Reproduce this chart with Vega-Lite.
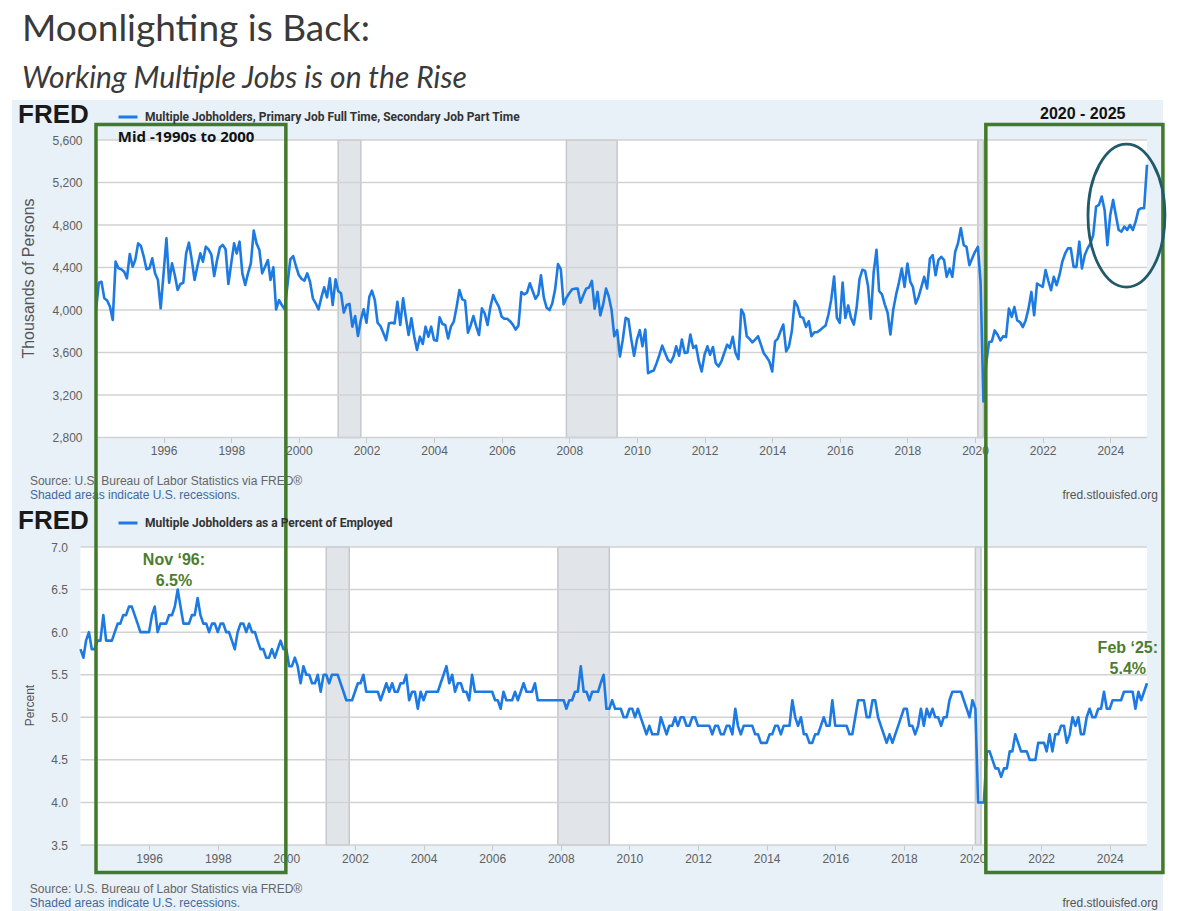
{
  "$schema": "https://vega.github.io/schema/vega-lite/v6.json",
  "width": 1151,
  "height": 811,
  "autosize": {"type": "none"},
  "padding": {"left": 12, "top": 100, "right": 16, "bottom": 0},
  "background": "white",
  "title": {
    "text": "Moonlighting is Back:",
    "subtitle": "Working Multiple Jobs is on the Rise",
    "anchor": "start",
    "frame": "group",
    "dx": 10,
    "offset": 5,
    "font": "Lato",
    "fontSize": 37,
    "fontWeight": "normal",
    "color": "#3a3a3a",
    "subtitleFont": "Lato",
    "subtitleFontSize": 30,
    "subtitleFontStyle": "italic",
    "subtitleColor": "#3a3a3a",
    "subtitlePadding": 15
  },
  "config": {
    "view": {"fill": "#e8f0f8", "stroke": null},
    "axis": {
      "labelFont": "Liberation Sans",
      "labelFontSize": 12,
      "labelColor": "#606060",
      "titleFont": "Liberation Sans",
      "titleFontSize": 14,
      "titleFontWeight": "normal",
      "titleColor": "#555555",
      "grid": false,
      "domain": false
    }
  },
  "datasets": {
    "rec": [
      {"s": "2001-03-01", "e": "2001-11-01"},
      {"s": "2007-12-01", "e": "2009-06-01"},
      {"s": "2020-02-01", "e": "2020-04-01"}
    ],
    "boxes": [
      {"s": "1994-01-01", "e": "1999-08-14"},
      {"s": "2020-04-27", "e": "2025-07-23"}
    ],
    "gridTop": [{"v": 2800}, {"v": 3200}, {"v": 3600}, {"v": 4000}, {"v": 4400}, {"v": 4800}, {"v": 5200}, {"v": 5600}],
    "gridPct": [{"v": 3.5}, {"v": 4.0}, {"v": 4.5}, {"v": 5.0}, {"v": 5.5}, {"v": 6.0}, {"v": 6.5}, {"v": 7.0}],
    "top": [
      {"d":"1994-01","v":4000},{"d":"1994-02","v":4257},{"d":"1994-03","v":4266},{"d":"1994-04","v":4110},{"d":"1994-05","v":4090},{"d":"1994-06","v":4030},{"d":"1994-07","v":3906},{"d":"1994-08","v":4455},{"d":"1994-09","v":4392},{"d":"1994-10","v":4383},{"d":"1994-11","v":4360},{"d":"1994-12","v":4298},
      {"d":"1995-01","v":4527},{"d":"1995-02","v":4408},{"d":"1995-03","v":4470},{"d":"1995-04","v":4627},{"d":"1995-05","v":4602},{"d":"1995-06","v":4502},{"d":"1995-07","v":4383},{"d":"1995-08","v":4392},{"d":"1995-09","v":4486},{"d":"1995-10","v":4345},{"d":"1995-11","v":4282},{"d":"1995-12","v":4016},
      {"d":"1996-01","v":4345},{"d":"1996-02","v":4675},{"d":"1996-03","v":4257},{"d":"1996-04","v":4439},{"d":"1996-05","v":4329},{"d":"1996-06","v":4188},{"d":"1996-07","v":4245},{"d":"1996-08","v":4257},{"d":"1996-09","v":4533},{"d":"1996-10","v":4634},{"d":"1996-11","v":4470},{"d":"1996-12","v":4282},
      {"d":"1997-01","v":4414},{"d":"1997-02","v":4533},{"d":"1997-03","v":4455},{"d":"1997-04","v":4596},{"d":"1997-05","v":4571},{"d":"1997-06","v":4518},{"d":"1997-07","v":4320},{"d":"1997-08","v":4470},{"d":"1997-09","v":4590},{"d":"1997-10","v":4612},{"d":"1997-11","v":4571},{"d":"1997-12","v":4245},
      {"d":"1998-01","v":4439},{"d":"1998-02","v":4627},{"d":"1998-03","v":4533},{"d":"1998-04","v":4643},{"d":"1998-05","v":4345},{"d":"1998-06","v":4235},{"d":"1998-07","v":4345},{"d":"1998-08","v":4439},{"d":"1998-09","v":4747},{"d":"1998-10","v":4627},{"d":"1998-11","v":4565},{"d":"1998-12","v":4345},
      {"d":"1999-01","v":4408},{"d":"1999-02","v":4470},{"d":"1999-03","v":4282},{"d":"1999-04","v":4402},{"d":"1999-05","v":4006},{"d":"1999-06","v":4094},{"d":"1999-07","v":4047},{"d":"1999-08","v":4006},{"d":"1999-09","v":4240},{"d":"1999-10","v":4477},{"d":"1999-11","v":4508},{"d":"1999-12","v":4414},
      {"d":"2000-01","v":4329},{"d":"2000-02","v":4292},{"d":"2000-03","v":4276},{"d":"2000-04","v":4345},{"d":"2000-05","v":4266},{"d":"2000-06","v":4110},{"d":"2000-07","v":4063},{"d":"2000-08","v":4006},{"d":"2000-09","v":4119},{"d":"2000-10","v":4213},{"d":"2000-11","v":4119},{"d":"2000-12","v":4298},
      {"d":"2001-01","v":4047},{"d":"2001-02","v":4289},{"d":"2001-03","v":4179},{"d":"2001-04","v":4157},{"d":"2001-05","v":3975},{"d":"2001-06","v":4047},{"d":"2001-07","v":4057},{"d":"2001-08","v":3843},{"d":"2001-09","v":3943},{"d":"2001-10","v":3755},{"d":"2001-11","v":3906},{"d":"2001-12","v":4006},
      {"d":"2002-01","v":3880},{"d":"2002-02","v":4125},{"d":"2002-03","v":4182},{"d":"2002-04","v":4094},{"d":"2002-05","v":3880},{"d":"2002-06","v":3849},{"d":"2002-07","v":3786},{"d":"2002-08","v":3717},{"d":"2002-09","v":3874},{"d":"2002-10","v":3880},{"d":"2002-11","v":3874},{"d":"2002-12","v":4078},
      {"d":"2003-01","v":3859},{"d":"2003-02","v":4110},{"d":"2003-03","v":3937},{"d":"2003-04","v":3765},{"d":"2003-05","v":3922},{"d":"2003-06","v":3749},{"d":"2003-07","v":3624},{"d":"2003-08","v":3749},{"d":"2003-09","v":3680},{"d":"2003-10","v":3843},{"d":"2003-11","v":3749},{"d":"2003-12","v":3843},
      {"d":"2004-01","v":3717},{"d":"2004-02","v":3711},{"d":"2004-03","v":3931},{"d":"2004-04","v":3868},{"d":"2004-05","v":3859},{"d":"2004-06","v":3733},{"d":"2004-07","v":3843},{"d":"2004-08","v":3890},{"d":"2004-09","v":4031},{"d":"2004-10","v":4188},{"d":"2004-11","v":4100},{"d":"2004-12","v":4088},
      {"d":"2005-01","v":3786},{"d":"2005-02","v":3859},{"d":"2005-03","v":3943},{"d":"2005-04","v":3843},{"d":"2005-05","v":3765},{"d":"2005-06","v":4016},{"d":"2005-07","v":3969},{"d":"2005-08","v":3859},{"d":"2005-09","v":4031},{"d":"2005-10","v":4141},{"d":"2005-11","v":4078},{"d":"2005-12","v":4031},
      {"d":"2006-01","v":3936},{"d":"2006-02","v":3917},{"d":"2006-03","v":3917},{"d":"2006-04","v":3895},{"d":"2006-05","v":3863},{"d":"2006-06","v":3816},{"d":"2006-07","v":3854},{"d":"2006-08","v":4170},{"d":"2006-09","v":4147},{"d":"2006-10","v":4163},{"d":"2006-11","v":4252},{"d":"2006-12","v":4179},
      {"d":"2007-01","v":4106},{"d":"2007-02","v":4147},{"d":"2007-03","v":4327},{"d":"2007-04","v":4116},{"d":"2007-05","v":4021},{"d":"2007-06","v":3999},{"d":"2007-07","v":4062},{"d":"2007-08","v":4195},{"d":"2007-09","v":4432},{"d":"2007-10","v":4384},{"d":"2007-11","v":4053},{"d":"2007-12","v":4116},
      {"d":"2008-01","v":4157},{"d":"2008-02","v":4195},{"d":"2008-03","v":4201},{"d":"2008-04","v":4201},{"d":"2008-05","v":4069},{"d":"2008-06","v":4138},{"d":"2008-07","v":4201},{"d":"2008-08","v":4211},{"d":"2008-09","v":4274},{"d":"2008-10","v":4012},{"d":"2008-11","v":4170},{"d":"2008-12","v":3949},
      {"d":"2009-01","v":4053},{"d":"2009-02","v":4201},{"d":"2009-03","v":4132},{"d":"2009-04","v":4005},{"d":"2009-05","v":3753},{"d":"2009-06","v":3810},{"d":"2009-07","v":3563},{"d":"2009-08","v":3721},{"d":"2009-09","v":3926},{"d":"2009-10","v":3911},{"d":"2009-11","v":3721},{"d":"2009-12","v":3570},
      {"d":"2010-01","v":3721},{"d":"2010-02","v":3810},{"d":"2010-03","v":3658},{"d":"2010-04","v":3816},{"d":"2010-05","v":3406},{"d":"2010-06","v":3421},{"d":"2010-07","v":3431},{"d":"2010-08","v":3500},{"d":"2010-09","v":3579},{"d":"2010-10","v":3664},{"d":"2010-11","v":3595},{"d":"2010-12","v":3532},
      {"d":"2011-01","v":3507},{"d":"2011-02","v":3563},{"d":"2011-03","v":3658},{"d":"2011-04","v":3570},{"d":"2011-05","v":3721},{"d":"2011-06","v":3595},{"d":"2011-07","v":3601},{"d":"2011-08","v":3769},{"d":"2011-09","v":3642},{"d":"2011-10","v":3664},{"d":"2011-11","v":3516},{"d":"2011-12","v":3421},
      {"d":"2012-01","v":3579},{"d":"2012-02","v":3658},{"d":"2012-03","v":3579},{"d":"2012-04","v":3652},{"d":"2012-05","v":3500},{"d":"2012-06","v":3469},{"d":"2012-07","v":3516},{"d":"2012-08","v":3595},{"d":"2012-09","v":3674},{"d":"2012-10","v":3642},{"d":"2012-11","v":3747},{"d":"2012-12","v":3595},
      {"d":"2013-01","v":3538},{"d":"2013-02","v":4005},{"d":"2013-03","v":3958},{"d":"2013-04","v":3753},{"d":"2013-05","v":3728},{"d":"2013-06","v":3696},{"d":"2013-07","v":3721},{"d":"2013-08","v":3753},{"d":"2013-09","v":3674},{"d":"2013-10","v":3595},{"d":"2013-11","v":3557},{"d":"2013-12","v":3516},
      {"d":"2014-01","v":3421},{"d":"2014-02","v":3705},{"d":"2014-03","v":3728},{"d":"2014-04","v":3800},{"d":"2014-05","v":3863},{"d":"2014-06","v":3611},{"d":"2014-07","v":3658},{"d":"2014-08","v":3800},{"d":"2014-09","v":4084},{"d":"2014-10","v":4037},{"d":"2014-11","v":3936},{"d":"2014-12","v":3926},
      {"d":"2015-01","v":3841},{"d":"2015-02","v":3895},{"d":"2015-03","v":3753},{"d":"2015-04","v":3791},{"d":"2015-05","v":3791},{"d":"2015-06","v":3810},{"d":"2015-07","v":3832},{"d":"2015-08","v":3854},{"d":"2015-09","v":3958},{"d":"2015-10","v":4100},{"d":"2015-11","v":4315},{"d":"2015-12","v":3926},
      {"d":"2016-01","v":3879},{"d":"2016-02","v":4258},{"d":"2016-03","v":3926},{"d":"2016-04","v":4043},{"d":"2016-05","v":3926},{"d":"2016-06","v":3863},{"d":"2016-07","v":4021},{"d":"2016-08","v":4290},{"d":"2016-09","v":4378},{"d":"2016-10","v":4368},{"d":"2016-11","v":4226},{"d":"2016-12","v":3917},
      {"d":"2017-01","v":4353},{"d":"2017-02","v":4567},{"d":"2017-03","v":4179},{"d":"2017-04","v":4147},{"d":"2017-05","v":4053},{"d":"2017-06","v":3974},{"d":"2017-07","v":3769},{"d":"2017-08","v":4005},{"d":"2017-09","v":4147},{"d":"2017-10","v":4258},{"d":"2017-11","v":4390},{"d":"2017-12","v":4217},
      {"d":"2018-01","v":4438},{"d":"2018-02","v":4265},{"d":"2018-03","v":4217},{"d":"2018-04","v":4060},{"d":"2018-05","v":4123},{"d":"2018-06","v":4217},{"d":"2018-07","v":4312},{"d":"2018-08","v":4202},{"d":"2018-09","v":4485},{"d":"2018-10","v":4516},{"d":"2018-11","v":4327},{"d":"2018-12","v":4469},
      {"d":"2019-01","v":4501},{"d":"2019-02","v":4469},{"d":"2019-03","v":4312},{"d":"2019-04","v":4390},{"d":"2019-05","v":4312},{"d":"2019-06","v":4548},{"d":"2019-07","v":4627},{"d":"2019-08","v":4769},{"d":"2019-09","v":4611},{"d":"2019-10","v":4595},{"d":"2019-11","v":4422},{"d":"2019-12","v":4485},
      {"d":"2020-01","v":4548},{"d":"2020-02","v":4595},{"d":"2020-03","v":4265},{"d":"2020-04","v":3140},{"d":"2020-05","v":3500},{"d":"2020-06","v":3698},{"d":"2020-07","v":3704},{"d":"2020-08","v":3808},{"d":"2020-09","v":3767},{"d":"2020-10","v":3713},{"d":"2020-11","v":3754},{"d":"2020-12","v":3745},
      {"d":"2021-01","v":4013},{"d":"2021-02","v":3934},{"d":"2021-03","v":4028},{"d":"2021-04","v":3902},{"d":"2021-05","v":3887},{"d":"2021-06","v":3839},{"d":"2021-07","v":3902},{"d":"2021-08","v":4013},{"d":"2021-09","v":4170},{"d":"2021-10","v":3950},{"d":"2021-11","v":4249},{"d":"2021-12","v":4233},
      {"d":"2022-01","v":4217},{"d":"2022-02","v":4375},{"d":"2022-03","v":4280},{"d":"2022-04","v":4186},{"d":"2022-05","v":4312},{"d":"2022-06","v":4233},{"d":"2022-07","v":4328},{"d":"2022-08","v":4454},{"d":"2022-09","v":4532},{"d":"2022-10","v":4580},{"d":"2022-11","v":4580},{"d":"2022-12","v":4406},
      {"d":"2023-01","v":4406},{"d":"2023-02","v":4643},{"d":"2023-03","v":4391},{"d":"2023-04","v":4517},{"d":"2023-05","v":4580},{"d":"2023-06","v":4627},{"d":"2023-07","v":4706},{"d":"2023-08","v":4973},{"d":"2023-09","v":4989},{"d":"2023-10","v":5068},{"d":"2023-11","v":4942},{"d":"2023-12","v":4611},
      {"d":"2024-01","v":4895},{"d":"2024-02","v":5036},{"d":"2024-03","v":4895},{"d":"2024-04","v":4753},{"d":"2024-05","v":4737},{"d":"2024-06","v":4784},{"d":"2024-07","v":4753},{"d":"2024-08","v":4800},{"d":"2024-09","v":4753},{"d":"2024-10","v":4832},{"d":"2024-11","v":4942},{"d":"2024-12","v":4958},
      {"d":"2025-01","v":4958},{"d":"2025-02","v":5367}
    ],
    "pct": [
      {"d":"1994-01","v":5.8},{"d":"1994-02","v":5.7},{"d":"1994-03","v":5.9},{"d":"1994-04","v":6.0},{"d":"1994-05","v":5.8},{"d":"1994-06","v":5.8},{"d":"1994-07","v":5.9},{"d":"1994-08","v":5.9},{"d":"1994-09","v":6.2},{"d":"1994-10","v":5.9},{"d":"1994-11","v":5.9},{"d":"1994-12","v":5.9},
      {"d":"1995-01","v":6.0},{"d":"1995-02","v":6.1},{"d":"1995-03","v":6.1},{"d":"1995-04","v":6.2},{"d":"1995-05","v":6.2},{"d":"1995-06","v":6.3},{"d":"1995-07","v":6.3},{"d":"1995-08","v":6.2},{"d":"1995-09","v":6.1},{"d":"1995-10","v":6.0},{"d":"1995-11","v":6.0},{"d":"1995-12","v":6.0},
      {"d":"1996-01","v":6.0},{"d":"1996-02","v":6.2},{"d":"1996-03","v":6.3},{"d":"1996-04","v":6.0},{"d":"1996-05","v":6.1},{"d":"1996-06","v":6.1},{"d":"1996-07","v":6.1},{"d":"1996-08","v":6.2},{"d":"1996-09","v":6.2},{"d":"1996-10","v":6.3},{"d":"1996-11","v":6.5},{"d":"1996-12","v":6.3},
      {"d":"1997-01","v":6.1},{"d":"1997-02","v":6.1},{"d":"1997-03","v":6.1},{"d":"1997-04","v":6.2},{"d":"1997-05","v":6.2},{"d":"1997-06","v":6.4},{"d":"1997-07","v":6.2},{"d":"1997-08","v":6.1},{"d":"1997-09","v":6.1},{"d":"1997-10","v":6.0},{"d":"1997-11","v":6.1},{"d":"1997-12","v":6.1},
      {"d":"1998-01","v":6.0},{"d":"1998-02","v":6.1},{"d":"1998-03","v":6.1},{"d":"1998-04","v":6.0},{"d":"1998-05","v":6.0},{"d":"1998-06","v":5.9},{"d":"1998-07","v":5.8},{"d":"1998-08","v":6.0},{"d":"1998-09","v":6.1},{"d":"1998-10","v":6.1},{"d":"1998-11","v":6.0},{"d":"1998-12","v":6.1},
      {"d":"1999-01","v":6.0},{"d":"1999-02","v":6.0},{"d":"1999-03","v":5.9},{"d":"1999-04","v":5.8},{"d":"1999-05","v":5.8},{"d":"1999-06","v":5.7},{"d":"1999-07","v":5.7},{"d":"1999-08","v":5.8},{"d":"1999-09","v":5.7},{"d":"1999-10","v":5.8},{"d":"1999-11","v":5.9},{"d":"1999-12","v":5.8},
      {"d":"2000-01","v":5.8},{"d":"2000-02","v":5.6},{"d":"2000-03","v":5.6},{"d":"2000-04","v":5.7},{"d":"2000-05","v":5.6},{"d":"2000-06","v":5.4},{"d":"2000-07","v":5.6},{"d":"2000-08","v":5.5},{"d":"2000-09","v":5.5},{"d":"2000-10","v":5.4},{"d":"2000-11","v":5.4},{"d":"2000-12","v":5.5},
      {"d":"2001-01","v":5.3},{"d":"2001-02","v":5.5},{"d":"2001-03","v":5.5},{"d":"2001-04","v":5.4},{"d":"2001-05","v":5.5},{"d":"2001-06","v":5.5},{"d":"2001-07","v":5.5},{"d":"2001-08","v":5.4},{"d":"2001-09","v":5.3},{"d":"2001-10","v":5.2},{"d":"2001-11","v":5.2},{"d":"2001-12","v":5.2},
      {"d":"2002-01","v":5.3},{"d":"2002-02","v":5.4},{"d":"2002-03","v":5.4},{"d":"2002-04","v":5.5},{"d":"2002-05","v":5.3},{"d":"2002-06","v":5.3},{"d":"2002-07","v":5.3},{"d":"2002-08","v":5.3},{"d":"2002-09","v":5.3},{"d":"2002-10","v":5.2},{"d":"2002-11","v":5.3},{"d":"2002-12","v":5.4},
      {"d":"2003-01","v":5.3},{"d":"2003-02","v":5.4},{"d":"2003-03","v":5.3},{"d":"2003-04","v":5.3},{"d":"2003-05","v":5.4},{"d":"2003-06","v":5.4},{"d":"2003-07","v":5.5},{"d":"2003-08","v":5.2},{"d":"2003-09","v":5.3},{"d":"2003-10","v":5.3},{"d":"2003-11","v":5.1},{"d":"2003-12","v":5.3},
      {"d":"2004-01","v":5.2},{"d":"2004-02","v":5.3},{"d":"2004-03","v":5.3},{"d":"2004-04","v":5.3},{"d":"2004-05","v":5.3},{"d":"2004-06","v":5.3},{"d":"2004-07","v":5.4},{"d":"2004-08","v":5.5},{"d":"2004-09","v":5.6},{"d":"2004-10","v":5.4},{"d":"2004-11","v":5.5},{"d":"2004-12","v":5.3},
      {"d":"2005-01","v":5.4},{"d":"2005-02","v":5.4},{"d":"2005-03","v":5.3},{"d":"2005-04","v":5.3},{"d":"2005-05","v":5.2},{"d":"2005-06","v":5.5},{"d":"2005-07","v":5.3},{"d":"2005-08","v":5.3},{"d":"2005-09","v":5.3},{"d":"2005-10","v":5.3},{"d":"2005-11","v":5.3},{"d":"2005-12","v":5.3},
      {"d":"2006-01","v":5.3},{"d":"2006-02","v":5.2},{"d":"2006-03","v":5.2},{"d":"2006-04","v":5.1},{"d":"2006-05","v":5.3},{"d":"2006-06","v":5.2},{"d":"2006-07","v":5.2},{"d":"2006-08","v":5.2},{"d":"2006-09","v":5.3},{"d":"2006-10","v":5.2},{"d":"2006-11","v":5.3},{"d":"2006-12","v":5.4},
      {"d":"2007-01","v":5.3},{"d":"2007-02","v":5.3},{"d":"2007-03","v":5.3},{"d":"2007-04","v":5.4},{"d":"2007-05","v":5.2},{"d":"2007-06","v":5.2},{"d":"2007-07","v":5.2},{"d":"2007-08","v":5.2},{"d":"2007-09","v":5.2},{"d":"2007-10","v":5.2},{"d":"2007-11","v":5.2},{"d":"2007-12","v":5.2},
      {"d":"2008-01","v":5.2},{"d":"2008-02","v":5.2},{"d":"2008-03","v":5.1},{"d":"2008-04","v":5.2},{"d":"2008-05","v":5.2},{"d":"2008-06","v":5.3},{"d":"2008-07","v":5.3},{"d":"2008-08","v":5.6},{"d":"2008-09","v":5.3},{"d":"2008-10","v":5.3},{"d":"2008-11","v":5.2},{"d":"2008-12","v":5.3},
      {"d":"2009-01","v":5.3},{"d":"2009-02","v":5.3},{"d":"2009-03","v":5.4},{"d":"2009-04","v":5.5},{"d":"2009-05","v":5.1},{"d":"2009-06","v":5.1},{"d":"2009-07","v":5.2},{"d":"2009-08","v":5.1},{"d":"2009-09","v":5.1},{"d":"2009-10","v":5.1},{"d":"2009-11","v":5.0},{"d":"2009-12","v":5.0},
      {"d":"2010-01","v":5.1},{"d":"2010-02","v":5.1},{"d":"2010-03","v":5.0},{"d":"2010-04","v":5.1},{"d":"2010-05","v":5.0},{"d":"2010-06","v":4.9},{"d":"2010-07","v":4.8},{"d":"2010-08","v":4.9},{"d":"2010-09","v":4.8},{"d":"2010-10","v":4.8},{"d":"2010-11","v":4.8},{"d":"2010-12","v":5.0},
      {"d":"2011-01","v":4.9},{"d":"2011-02","v":4.8},{"d":"2011-03","v":4.9},{"d":"2011-04","v":4.9},{"d":"2011-05","v":5.0},{"d":"2011-06","v":4.9},{"d":"2011-07","v":5.0},{"d":"2011-08","v":5.0},{"d":"2011-09","v":4.9},{"d":"2011-10","v":4.9},{"d":"2011-11","v":5.0},{"d":"2011-12","v":5.0},
      {"d":"2012-01","v":4.9},{"d":"2012-02","v":4.9},{"d":"2012-03","v":4.9},{"d":"2012-04","v":4.9},{"d":"2012-05","v":4.9},{"d":"2012-06","v":4.8},{"d":"2012-07","v":4.9},{"d":"2012-08","v":4.9},{"d":"2012-09","v":4.8},{"d":"2012-10","v":4.8},{"d":"2012-11","v":4.9},{"d":"2012-12","v":4.9},
      {"d":"2013-01","v":4.8},{"d":"2013-02","v":5.1},{"d":"2013-03","v":4.9},{"d":"2013-04","v":4.8},{"d":"2013-05","v":4.9},{"d":"2013-06","v":4.9},{"d":"2013-07","v":4.9},{"d":"2013-08","v":4.9},{"d":"2013-09","v":4.8},{"d":"2013-10","v":4.8},{"d":"2013-11","v":4.7},{"d":"2013-12","v":4.7},
      {"d":"2014-01","v":4.7},{"d":"2014-02","v":4.8},{"d":"2014-03","v":4.8},{"d":"2014-04","v":4.9},{"d":"2014-05","v":4.9},{"d":"2014-06","v":4.8},{"d":"2014-07","v":4.9},{"d":"2014-08","v":4.9},{"d":"2014-09","v":4.9},{"d":"2014-10","v":5.2},{"d":"2014-11","v":5.0},{"d":"2014-12","v":4.9},
      {"d":"2015-01","v":5.0},{"d":"2015-02","v":4.8},{"d":"2015-03","v":4.8},{"d":"2015-04","v":4.7},{"d":"2015-05","v":4.7},{"d":"2015-06","v":4.8},{"d":"2015-07","v":4.8},{"d":"2015-08","v":4.9},{"d":"2015-09","v":5.0},{"d":"2015-10","v":4.9},{"d":"2015-11","v":4.9},{"d":"2015-12","v":5.2},
      {"d":"2016-01","v":4.9},{"d":"2016-02","v":4.9},{"d":"2016-03","v":4.9},{"d":"2016-04","v":4.9},{"d":"2016-05","v":4.9},{"d":"2016-06","v":4.8},{"d":"2016-07","v":4.8},{"d":"2016-08","v":5.0},{"d":"2016-09","v":5.2},{"d":"2016-10","v":5.2},{"d":"2016-11","v":5.2},{"d":"2016-12","v":5.0},
      {"d":"2017-01","v":5.0},{"d":"2017-02","v":5.2},{"d":"2017-03","v":5.2},{"d":"2017-04","v":5.0},{"d":"2017-05","v":4.9},{"d":"2017-06","v":4.8},{"d":"2017-07","v":4.7},{"d":"2017-08","v":4.8},{"d":"2017-09","v":4.7},{"d":"2017-10","v":4.8},{"d":"2017-11","v":4.9},{"d":"2017-12","v":5.0},
      {"d":"2018-01","v":5.1},{"d":"2018-02","v":5.1},{"d":"2018-03","v":4.9},{"d":"2018-04","v":4.9},{"d":"2018-05","v":4.8},{"d":"2018-06","v":4.9},{"d":"2018-07","v":5.1},{"d":"2018-08","v":4.9},{"d":"2018-09","v":5.1},{"d":"2018-10","v":5.0},{"d":"2018-11","v":5.1},{"d":"2018-12","v":5.0},
      {"d":"2019-01","v":5.0},{"d":"2019-02","v":4.9},{"d":"2019-03","v":5.0},{"d":"2019-04","v":5.0},{"d":"2019-05","v":5.2},{"d":"2019-06","v":5.3},{"d":"2019-07","v":5.3},{"d":"2019-08","v":5.3},{"d":"2019-09","v":5.3},{"d":"2019-10","v":5.2},{"d":"2019-11","v":5.1},{"d":"2019-12","v":5.0},
      {"d":"2020-01","v":5.2},{"d":"2020-02","v":5.1},{"d":"2020-03","v":4.0},{"d":"2020-04","v":4.0},{"d":"2020-05","v":4.0},{"d":"2020-06","v":4.6},{"d":"2020-07","v":4.6},{"d":"2020-08","v":4.5},{"d":"2020-09","v":4.4},{"d":"2020-10","v":4.4},{"d":"2020-11","v":4.3},{"d":"2020-12","v":4.4},
      {"d":"2021-01","v":4.4},{"d":"2021-02","v":4.6},{"d":"2021-03","v":4.6},{"d":"2021-04","v":4.8},{"d":"2021-05","v":4.7},{"d":"2021-06","v":4.6},{"d":"2021-07","v":4.6},{"d":"2021-08","v":4.6},{"d":"2021-09","v":4.5},{"d":"2021-10","v":4.5},{"d":"2021-11","v":4.5},{"d":"2021-12","v":4.7},
      {"d":"2022-01","v":4.7},{"d":"2022-02","v":4.7},{"d":"2022-03","v":4.6},{"d":"2022-04","v":4.8},{"d":"2022-05","v":4.6},{"d":"2022-06","v":4.8},{"d":"2022-07","v":4.8},{"d":"2022-08","v":4.9},{"d":"2022-09","v":4.9},{"d":"2022-10","v":4.7},{"d":"2022-11","v":4.8},{"d":"2022-12","v":5.0},
      {"d":"2023-01","v":4.9},{"d":"2023-02","v":5.0},{"d":"2023-03","v":4.8},{"d":"2023-04","v":4.8},{"d":"2023-05","v":5.0},{"d":"2023-06","v":5.1},{"d":"2023-07","v":5.0},{"d":"2023-08","v":5.0},{"d":"2023-09","v":5.1},{"d":"2023-10","v":5.1},{"d":"2023-11","v":5.3},{"d":"2023-12","v":5.1},
      {"d":"2024-01","v":5.1},{"d":"2024-02","v":5.2},{"d":"2024-03","v":5.2},{"d":"2024-04","v":5.2},{"d":"2024-05","v":5.2},{"d":"2024-06","v":5.3},{"d":"2024-07","v":5.3},{"d":"2024-08","v":5.3},{"d":"2024-09","v":5.3},{"d":"2024-10","v":5.1},{"d":"2024-11","v":5.3},{"d":"2024-12","v":5.2},
      {"d":"2025-01","v":5.3},{"d":"2025-02","v":5.4}
    ]
  },
  "layer": [
    {
      "layer": [
        {
          "data": {"values": [{}]},
          "mark": {"type": "rect", "fill": "white"},
          "encoding": {
            "x": {
              "datum": {"year": 1994, "month": 1, "date": 1, "utc": true},
              "type": "temporal",
              "scale": {"type": "utc", "domain": [{"year": 1994, "month": 1, "date": 1, "utc": true}, {"year": 2025, "month": 2, "date": 1, "utc": true}], "range": [68.5, 1135], "nice": false},
              "axis": {
                "orient": "bottom", "offset": -66, "format": "%Y", "title": null,
                "values": [{"year": 1996, "utc": true}, {"year": 1998, "utc": true}, {"year": 2000, "utc": true}, {"year": 2002, "utc": true}, {"year": 2004, "utc": true}, {"year": 2006, "utc": true}, {"year": 2008, "utc": true}, {"year": 2010, "utc": true}, {"year": 2012, "utc": true}, {"year": 2014, "utc": true}, {"year": 2016, "utc": true}, {"year": 2018, "utc": true}, {"year": 2020, "utc": true}, {"year": 2022, "utc": true}, {"year": 2024, "utc": true}],
                "tickSize": 5, "tickColor": "#c8c8c8", "labelPadding": 3
              }
            },
            "x2": {"datum": {"year": 2025, "month": 2, "date": 1, "utc": true}},
            "y": {
              "datum": 3.5,
              "type": "quantitative",
              "scale": {"domain": [3.5, 7.0], "range": [745, 447], "nice": false, "zero": false},
              "axis": {
                "orient": "left", "offset": -68.5, "format": ".1f", "ticks": false, "labelPadding": 13,
                "values": [3.5, 4.0, 4.5, 5.0, 5.5, 6.0, 6.5, 7.0],
                "title": "Percent", "titleFontSize": 12, "titleX": -44, "titleY": 605
              }
            },
            "y2": {"datum": 7.0}
          }
        },
        {
          "data": {"name": "rec"},
          "mark": {"type": "rect", "fill": "#e1e5ea", "stroke": "#c4c7cc", "strokeWidth": 1.5},
          "encoding": {
            "x": {"field": "s", "type": "temporal"},
            "x2": {"field": "e"},
            "y": {"datum": 3.5, "type": "quantitative"},
            "y2": {"datum": 7.0}
          }
        },
        {
          "data": {"name": "gridPct"},
          "mark": {"type": "rule", "color": "#d2d2d2", "strokeWidth": 1.5},
          "encoding": {
            "x": {"datum": {"year": 1994, "month": 1, "date": 1, "utc": true}, "type": "temporal"},
            "x2": {"datum": {"year": 2025, "month": 2, "date": 1, "utc": true}},
            "y": {"field": "v", "type": "quantitative"}
          }
        },
        {
          "data": {"name": "pct"},
          "mark": {"type": "line", "strokeWidth": 2.6, "strokeJoin": "round"},
          "encoding": {
            "x": {"field": "d", "type": "temporal"},
            "y": {"field": "v", "type": "quantitative"},
            "color": {
              "datum": "Multiple Jobholders as a Percent of Employed",
              "type": "nominal",
              "scale": {"range": ["#1c7ae2"]},
              "legend": {
                "orient": "none", "legendX": 6, "legendY": 412,
                "title": "FRED", "titleOrient": "left", "titleFont": "Liberation Sans", "titleFontSize": 26, "titleFontWeight": "bold", "titleColor": "#1a1a1a", "titlePadding": 28,
                "labelFont": "Roboto", "labelFontSize": 12, "labelFontWeight": "bold", "labelColor": "#333333", "labelLimit": 700, "labelOffset": 6,
                "symbolType": "stroke", "symbolSize": 361, "symbolStrokeWidth": 3
              }
            }
          }
        },
        {
          "data": {"values": [{}]},
          "mark": {"type": "text", "text": ["Nov ‘96:", "6.5%"], "align": "center", "baseline": "alphabetic", "lineHeight": 21, "font": "Liberation Sans", "fontWeight": "bold", "fontSize": 16, "color": "#4b7d2d"},
          "encoding": {
            "x": {"datum": {"year": 1996, "month": 9, "date": 22, "utc": true}, "type": "temporal"},
            "y": {"datum": 6.783, "type": "quantitative"}
          }
        },
        {
          "data": {"values": [{}]},
          "mark": {"type": "text", "text": ["Feb ‘25:", "5.4%"], "align": "center", "baseline": "alphabetic", "lineHeight": 21, "font": "Liberation Sans", "fontWeight": "bold", "fontSize": 16, "color": "#4b7d2d"},
          "encoding": {
            "x": {"datum": {"year": 2024, "month": 7, "date": 12, "utc": true}, "type": "temporal"},
            "y": {"datum": 5.755, "type": "quantitative"}
          }
        },
        {
          "data": {"values": [{}]},
          "mark": {"type": "text", "text": "Source: U.S. Bureau of Labor Statistics via FRED®", "align": "left", "baseline": "middle", "font": "Liberation Sans", "fontSize": 12, "color": "#666666"},
          "encoding": {
            "x": {"datum": {"year": 1992, "month": 7, "date": 11, "utc": true}, "type": "temporal"},
            "y": {"datum": 2.98, "type": "quantitative"}
          }
        },
        {
          "data": {"values": [{}]},
          "mark": {"type": "text", "text": "Shaded areas indicate U.S. recessions.", "align": "left", "baseline": "middle", "font": "Liberation Sans", "fontSize": 12, "color": "#3f6a9e"},
          "encoding": {
            "x": {"datum": {"year": 1992, "month": 7, "date": 11, "utc": true}, "type": "temporal"},
            "y": {"datum": 2.817, "type": "quantitative"}
          }
        },
        {
          "data": {"values": [{}]},
          "mark": {"type": "text", "text": "fred.stlouisfed.org", "align": "right", "baseline": "middle", "font": "Liberation Sans", "fontSize": 12, "color": "#555555"},
          "encoding": {
            "x": {"datum": {"year": 2025, "month": 5, "date": 28, "utc": true}, "type": "temporal"},
            "y": {"datum": 2.817, "type": "quantitative"}
          }
        }
      ]
    },
    {
      "layer": [
        {
          "data": {"values": [{}]},
          "mark": {"type": "rect", "fill": "white"},
          "encoding": {
            "x": {
              "datum": {"year": 1994, "month": 1, "date": 1, "utc": true},
              "type": "temporal",
              "scale": {"type": "utc", "domain": [{"year": 1994, "month": 1, "date": 1, "utc": true}, {"year": 2025, "month": 2, "date": 1, "utc": true}], "range": [84, 1135], "nice": false},
              "axis": {
                "orient": "bottom", "offset": -473.5, "format": "%Y", "title": null,
                "values": [{"year": 1996, "utc": true}, {"year": 1998, "utc": true}, {"year": 2000, "utc": true}, {"year": 2002, "utc": true}, {"year": 2004, "utc": true}, {"year": 2006, "utc": true}, {"year": 2008, "utc": true}, {"year": 2010, "utc": true}, {"year": 2012, "utc": true}, {"year": 2014, "utc": true}, {"year": 2016, "utc": true}, {"year": 2018, "utc": true}, {"year": 2020, "utc": true}, {"year": 2022, "utc": true}, {"year": 2024, "utc": true}],
                "tickSize": 5, "tickColor": "#c8c8c8", "labelPadding": 3
              }
            },
            "x2": {"datum": {"year": 2025, "month": 2, "date": 1, "utc": true}},
            "y": {
              "datum": 2800,
              "type": "quantitative",
              "scale": {"domain": [2800, 5600], "range": [337.5, 40], "nice": false, "zero": false},
              "axis": {
                "orient": "left", "offset": -84, "format": ",d", "ticks": false, "labelPadding": 14,
                "values": [2800, 3200, 3600, 4000, 4400, 4800, 5200, 5600],
                "title": "Thousands of Persons", "titleFontSize": 16, "titleX": -60, "titleY": 178
              }
            },
            "y2": {"datum": 5600}
          }
        },
        {
          "data": {"name": "rec"},
          "mark": {"type": "rect", "fill": "#e1e5ea", "stroke": "#c4c7cc", "strokeWidth": 1.5},
          "encoding": {
            "x": {"field": "s", "type": "temporal"},
            "x2": {"field": "e"},
            "y": {"datum": 2800, "type": "quantitative"},
            "y2": {"datum": 5600}
          }
        },
        {
          "data": {"name": "gridTop"},
          "mark": {"type": "rule", "color": "#d2d2d2", "strokeWidth": 1.5},
          "encoding": {
            "x": {"datum": {"year": 1994, "month": 1, "date": 1, "utc": true}, "type": "temporal"},
            "x2": {"datum": {"year": 2025, "month": 2, "date": 1, "utc": true}},
            "y": {"field": "v", "type": "quantitative"}
          }
        },
        {
          "data": {"name": "top"},
          "mark": {"type": "line", "strokeWidth": 2.6, "strokeJoin": "round"},
          "encoding": {
            "x": {"field": "d", "type": "temporal"},
            "y": {"field": "v", "type": "quantitative"},
            "color": {
              "datum": "Multiple Jobholders, Primary Job Full Time, Secondary Job Part Time",
              "type": "nominal",
              "scale": {"range": ["#1c7ae2"]},
              "legend": {
                "orient": "none", "legendX": 6, "legendY": 6,
                "title": "FRED", "titleOrient": "left", "titleFont": "Liberation Sans", "titleFontSize": 26, "titleFontWeight": "bold", "titleColor": "#1a1a1a", "titlePadding": 28,
                "labelFont": "Roboto", "labelFontSize": 12, "labelFontWeight": "bold", "labelColor": "#333333", "labelLimit": 700, "labelOffset": 6,
                "symbolType": "stroke", "symbolSize": 361, "symbolStrokeWidth": 3
              }
            }
          }
        },
        {
          "data": {"values": [{}]},
          "mark": {"type": "text", "text": "Source: U.S. Bureau of Labor Statistics via FRED®", "align": "left", "baseline": "middle", "font": "Liberation Sans", "fontSize": 12, "color": "#666666"},
          "encoding": {
            "x": {"datum": {"year": 1992, "month": 1, "date": 18, "utc": true}, "type": "temporal"},
            "y": {"datum": 2390, "type": "quantitative"}
          }
        },
        {
          "data": {"values": [{}]},
          "mark": {"type": "text", "text": "Shaded areas indicate U.S. recessions.", "align": "left", "baseline": "middle", "font": "Liberation Sans", "fontSize": 12, "color": "#3f6a9e"},
          "encoding": {
            "x": {"datum": {"year": 1992, "month": 1, "date": 18, "utc": true}, "type": "temporal"},
            "y": {"datum": 2259, "type": "quantitative"}
          }
        },
        {
          "data": {"values": [{}]},
          "mark": {"type": "text", "text": "fred.stlouisfed.org", "align": "right", "baseline": "middle", "font": "Liberation Sans", "fontSize": 12, "color": "#555555"},
          "encoding": {
            "x": {"datum": {"year": 2025, "month": 5, "date": 29, "utc": true}, "type": "temporal"},
            "y": {"datum": 2259, "type": "quantitative"}
          }
        },
        {
          "data": {"values": [{}]},
          "mark": {"type": "text", "text": "Mid -1990s to 2000", "align": "left", "baseline": "middle", "font": "Open Sans", "fontWeight": "bold", "fontSize": 15, "color": "#111111"},
          "encoding": {
            "x": {"datum": {"year": 1994, "month": 8, "date": 25, "utc": true}, "type": "temporal"},
            "y": {"datum": 5628, "type": "quantitative"}
          }
        },
        {
          "data": {"values": [{}]},
          "mark": {"type": "text", "text": "2020 - 2025", "align": "center", "baseline": "middle", "font": "Liberation Sans", "fontWeight": "bold", "fontSize": 16, "color": "#111111"},
          "encoding": {
            "x": {"datum": {"year": 2023, "month": 3, "date": 10, "utc": true}, "type": "temporal"},
            "y": {"datum": 5845, "type": "quantitative"}
          }
        },
        {
          "data": {"name": "boxes"},
          "mark": {"type": "rect", "fill": null, "fillOpacity": 0, "stroke": "#42792a", "strokeWidth": 3.5},
          "encoding": {
            "x": {"field": "s", "type": "temporal"},
            "x2": {"field": "e"},
            "y": {"datum": 5746, "type": "quantitative"},
            "y2": {"datum": -1294}
          }
        },
        {
          "data": {"values": [{}]},
          "mark": {"type": "point", "filled": false, "shape": "M0,-1C0.297,-1,0.538,-0.552,0.538,0C0.538,0.552,0.297,1,0,1C-0.297,1,-0.538,0.552,-0.538,0C-0.538,-0.552,-0.297,-1,0,-1Z", "size": 20449, "stroke": "#215a6b", "strokeWidth": 2.8, "opacity": 1},
          "encoding": {
            "x": {"datum": {"year": 2024, "month": 6, "date": 24, "utc": true}, "type": "temporal"},
            "y": {"datum": 4889, "type": "quantitative"}
          }
        }
      ]
    }
  ],
  "resolve": {
    "scale": {"x": "independent", "y": "independent", "color": "independent"},
    "axis": {"x": "independent", "y": "independent"},
    "legend": {"color": "independent"}
  }
}
